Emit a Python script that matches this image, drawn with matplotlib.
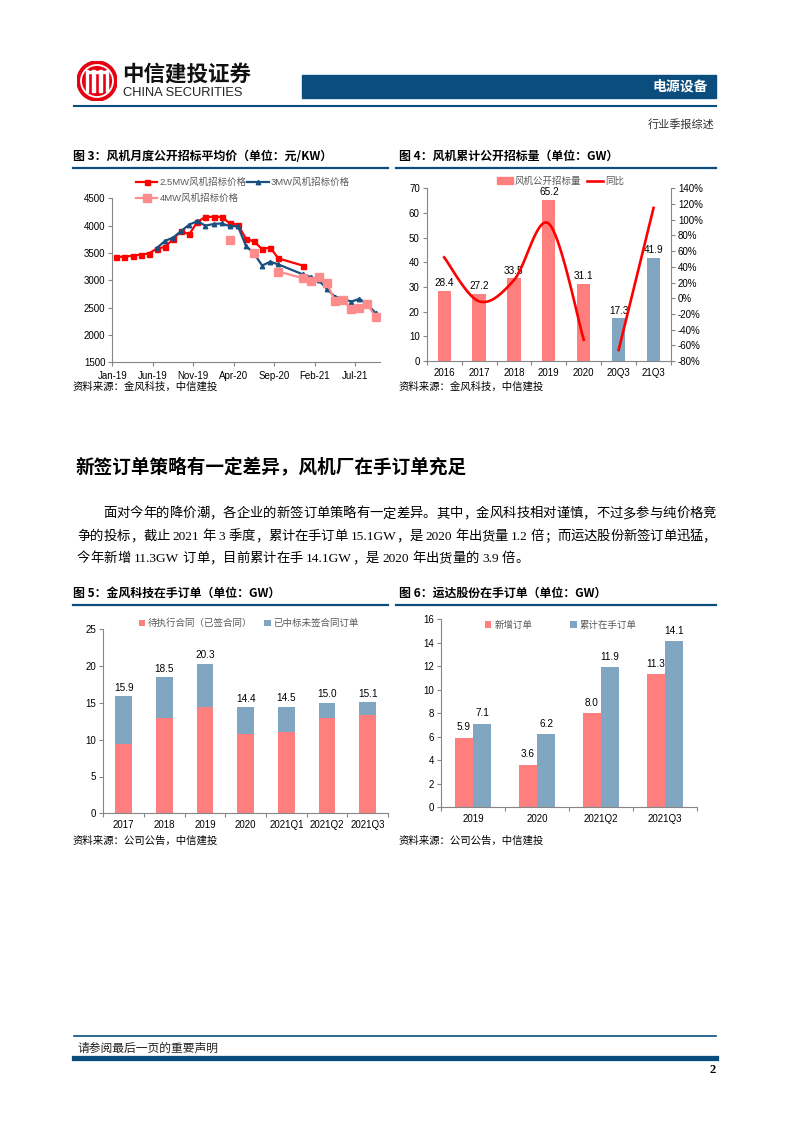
import re
import numpy as np
import matplotlib
matplotlib.use('Agg')
import matplotlib.pyplot as plt
from matplotlib.patches import Rectangle, Circle, Patch
from matplotlib.lines import Line2D

W, H = 793, 1122
CJK = 'Noto Sans CJK SC'
LAT = 'Liberation Sans'
MIX = [LAT, CJK]
SERIF_MIX = ['Liberation Serif', CJK]
NAVY = '#0B4E7D'
PINK = '#FF7F7F'
BLUE = '#80A6C1'
RED = '#FF0000'
GREY = '#868686'

plt.rcParams['font.family'] = MIX

# ---- chart 3: monthly average bid price (yuan/kW) ----
month_idx = list(range(0, 21)) + list(range(23, 33))
month_ticks = ['Jan-19', 'Jun-19', 'Nov-19', 'Apr-20', 'Sep-20', 'Feb-21', 'Jul-21']
price_25 = [3430, 3430, 3450, 3470, 3490, 3580, 3610, 3750, 3900, 3840, 4070,
            4160, 4160, 4160, 4040, 4020, 3760, 3710, 3570, 3600, 3400,
            3270] + [None] * 9
price_3 = [None] * 5 + [3590, 3720, 3780, 3900, 4020, 4080, 4000, 4030, 4040,
                        3990, 3990, 3630, 3490, 3270, 3340, 3290,
                        3110, 3060, 3000, 2840, 2700, 2660, 2610, 2660, 2560, 2400]
price_4 = [None] * 14 + [3730, None, None, 3500, None, None, 3160,
                         3040, 2990, 3060, 2950, 2620, 2640, 2470, 2490, 2560, 2330]

# ---- chart 4: cumulative public bidding (GW) ----
bid_cats = ['2016', '2017', '2018', '2019', '2020', '20Q3', '21Q3']
bid_gw = [28.4, 27.2, 33.5, 65.2, 31.1, 17.3, 41.9]
bid_yoy = [52, -4, 23, 95, -53, -66, 115]

# ---- chart 5: Goldwind backlog (GW) ----
jf_cats = ['2017', '2018', '2019', '2020', '2021Q1', '2021Q2', '2021Q3']
jf_total = [15.9, 18.5, 20.3, 14.4, 14.5, 15.0, 15.1]
jf_signed = [9.4, 12.9, 14.4, 10.8, 11.1, 13.0, 13.4]

# ---- chart 6: Windey orders (GW) ----
yd_cats = ['2019', '2020', '2021Q2', '2021Q3']
yd_new = [5.9, 3.6, 8.0, 11.3]
yd_backlog = [7.1, 6.2, 11.9, 14.1]

fig = plt.figure(figsize=(W / 100, H / 100), dpi=100)


def add_ax(x0, y0, x1, y1, **kw):
    return fig.add_axes([x0 / W, 1 - y1 / H, (x1 - x0) / W, (y1 - y0) / H], **kw)


def txt(x, y, s, size, **kw):
    kw.setdefault('va', 'center')
    return fig.text(x / W, 1 - y / H, s, fontsize=size, **kw)


def hline(x0, x1, y, lw, color=NAVY):
    fig.add_artist(Line2D([x0 / W, x1 / W], [1 - y / H, 1 - y / H], lw=lw, color=color))


def style(ax):
    for s in ['top', 'right']:
        ax.spines[s].set_visible(False)
    for s in ['left', 'bottom']:
        ax.spines[s].set_color(GREY)
        ax.spines[s].set_linewidth(0.8)
    ax.tick_params(direction='out', length=3, width=0.8, color=GREY,
                   labelsize=7, labelcolor='black', pad=2)


def cat_axis(ax, cats):
    n = len(cats)
    ax.set_xlim(-0.5, n - 0.5)
    ax.set_xticks(np.arange(-0.5, n, 1))
    ax.set_xticklabels([])
    ax.set_xticks(np.arange(n), minor=True)
    ax.set_xticklabels(cats, minor=True)
    ax.tick_params(axis='x', which='minor', length=0, labelsize=7, pad=5)


def smooth(xs, ys, n=24):
    # Excel-like smoothed line (cubic Bezier through the points)
    pts = np.column_stack([xs, ys]).astype(float)
    out = [pts[0]]
    t = np.linspace(0, 1, n)[1:, None]
    for i in range(len(pts) - 1):
        p0 = pts[i - 1] if i > 0 else pts[i]
        p1, p2 = pts[i], pts[i + 1]
        p3 = pts[i + 2] if i + 2 < len(pts) else pts[i + 1]
        c1 = p1 + (p2 - p0) / 6
        c2 = p2 - (p3 - p1) / 6
        seg = (1 - t) ** 3 * p1 + 3 * (1 - t) ** 2 * t * c1 + 3 * (1 - t) * t ** 2 * c2 + t ** 3 * p2
        out.extend(seg)
    return np.array(out)


# ---------------- page header ----------------
lax = add_ax(77, 60, 117, 102)
lax.set_xlim(-1, 1)
lax.set_ylim(-1, 1)
lax.set_aspect('equal')
lax.axis('off')
lax.add_patch(Circle((0, 0), 1, color='#E60012'))
lax.add_patch(Circle((0, 0), 0.8, fill=False, ec='white', lw=1.3))
for bx in [-0.5, -0.17, 0.17, 0.5]:
    lax.add_patch(Rectangle((bx - 0.06, -0.55), 0.12, 1.1, color='white'))
lax.add_patch(Rectangle((-0.5, 0.42), 1.0, 0.1, color='white'))

txt(122, 74, '中信建投证券', 15.5, family=CJK, weight='bold', color='#111111')
txt(123, 92.5, 'CHINA SECURITIES', 9.3, family=LAT, color='#222222')
fig.add_artist(Rectangle((302 / W, 1 - 98 / H), 414 / W, 23 / H, color=NAVY,
                         transform=fig.transFigure))
txt(708, 87, '电源设备', 10, family=CJK, weight='bold', color='white', ha='right')
hline(74, 716, 105.5, 1.5)
txt(714, 125, '行业季报综述', 8, family=CJK, color='#333333', ha='right')

# ---------------- figure titles ----------------
txt(73, 156, '图 3：风机月度公开招标平均价（单位：元/KW）', 8.6, family=CJK, weight='bold')
txt(399, 156, '图 4：风机累计公开招标量（单位：GW）', 8.6, family=CJK, weight='bold')
hline(73, 388, 167.5, 1.6)
hline(396, 716, 167.5, 1.6)
txt(73, 387, '资料来源：金风科技，中信建投', 7.5, family=CJK)
txt(399, 387, '资料来源：金风科技，中信建投', 7.5, family=CJK)

# ---------------- chart 3 ----------------
ax3 = add_ax(112.3, 198.3, 379.6, 362.3)
style(ax3)
xm = np.array(month_idx) + 0.5
h25, = ax3.plot(xm, np.array(price_25, dtype=float), color=RED, lw=1.6,
                marker='s', ms=3.6, label='2.5MW风机招标价格')
h3, = ax3.plot(xm, np.array(price_3, dtype=float), color='#1A5080', lw=1.6,
               marker='^', ms=3.2, label='3MW风机招标价格')
h4, = ax3.plot(xm, np.array(price_4, dtype=float), color='#FF8C8C', lw=1.6,
               marker='s', ms=5.4, label='4MW风机招标价格')
ax3.set_xlim(0, 33)
ax3.set_ylim(1500, 4500)
ax3.set_yticks(np.arange(1500, 4501, 500))
ax3.set_xticks(np.arange(0, 31, 5))
ax3.set_xticklabels(month_ticks)
ax3.tick_params(axis='x', pad=3)
ax3.legend(handles=[h25, h4, h3], ncol=2, loc='upper left',
           bbox_to_anchor=(131 / W, 1 - 173 / H), bbox_transform=fig.transFigure,
           frameon=False, fontsize=6.8, handlelength=2.3, columnspacing=0.1,
           labelspacing=0.75, handletextpad=0.2, borderpad=0, labelcolor='#595959')

# ---------------- chart 4 ----------------
ax4 = add_ax(426.7, 188.3, 671, 361)
style(ax4)
xb = np.arange(len(bid_cats))
bar_cols = [PINK] * 5 + [BLUE] * 2
ax4.bar(xb, bid_gw, width=0.38, color=bar_cols, zorder=2)
for i, v in enumerate(bid_gw):
    ax4.annotate(f'{v:.1f}', (i, v), xytext=(0, 2), textcoords='offset points',
                 ha='center', va='bottom', fontsize=7.2)
cat_axis(ax4, bid_cats)
ax4.set_ylim(0, 70)
ax4.set_yticks(np.arange(0, 71, 10))
ax4r = ax4.twinx()
for s in ['top', 'left', 'bottom']:
    ax4r.spines[s].set_visible(False)
ax4r.spines['right'].set_color(GREY)
ax4r.spines['right'].set_linewidth(0.8)
ax4r.tick_params(direction='out', length=3, width=0.8, color=GREY, labelsize=7, pad=2)
ax4r.set_ylim(-80, 140)
ax4r.set_yticks(np.arange(-80, 141, 20))
ax4r.set_yticklabels([f'{v}%' for v in range(-80, 141, 20)])
seg1 = smooth(xb[:5], bid_yoy[:5])
seg2 = smooth(xb[5:], bid_yoy[5:])
ax4r.plot(seg1[:, 0], seg1[:, 1], color=RED, lw=1.9)
ax4r.plot(seg2[:, 0], seg2[:, 1], color=RED, lw=1.9)
ax4r.legend(handles=[Patch(color=PINK, label='风机公开招标量'),
                     Line2D([], [], color=RED, lw=1.9, label='同比')],
            ncol=2, loc='upper left', bbox_to_anchor=(492 / W, 1 - 172 / H),
            bbox_transform=fig.transFigure, frameon=False, fontsize=6.8,
            handlelength=1.7, handleheight=0.7, columnspacing=0.6,
            handletextpad=0.2, borderpad=0, labelcolor='#595959')

# ---------------- section text ----------------
txt(75, 467, '新签订单策略有一定差异，风机厂在手订单充足', 13.4, family=CJK, weight='bold')

renderer = fig.canvas.get_renderer()


def justify(s, x0, x1, y, size):
    tokens = re.findall(r'[A-Za-z0-9.]+|\s+|.', s)
    items = []
    for tok in tokens:
        if tok.isspace():
            items.append((None, size * 100 / 72 * 0.25))
            continue
        t = txt(0, y, tok, size, family=SERIF_MIX)
        items.append((t, t.get_window_extent(renderer=renderer).width))
    total = sum(w for _, w in items)
    extra = (x1 - x0 - total) / (len(items) - 1) if x1 else 0
    x = x0
    for t, w in items:
        if t is not None:
            t.set_position((x / W, 1 - y / H))
        x += w + extra


body_size = 9.6
justify('面对今年的降价潮，各企业的新签订单策略有一定差异。其中，金风科技相对谨慎，不过多参与纯价格竞',
        103, 716, 514, body_size)
justify('争的投标，截止 2021 年 3 季度，累计在手订单 15.1GW，是 2020 年出货量 1.2 倍；而运达股份新签订单迅猛，',
        77, 716, 537, body_size)
justify('今年新增 11.3GW 订单，目前累计在手 14.1GW，是 2020 年出货量的 3.9 倍。',
        77, None, 559, body_size)

# ---------------- figure titles 5 / 6 ----------------
txt(73, 593.5, '图 5：金风科技在手订单（单位：GW）', 8.6, family=CJK, weight='bold')
txt(399, 593.5, '图 6：运达股份在手订单（单位：GW）', 8.6, family=CJK, weight='bold')
hline(73, 388, 605, 1.6)
hline(396, 716, 605, 1.6)
txt(73, 841, '资料来源：公司公告，中信建投', 7.5, family=CJK)
txt(399, 841, '资料来源：公司公告，中信建投', 7.5, family=CJK)

# ---------------- chart 5 ----------------
ax5 = add_ax(103.3, 629.3, 388, 813.3)
style(ax5)
x5 = np.arange(len(jf_cats))
unsigned = np.array(jf_total) - np.array(jf_signed)
ax5.bar(x5, jf_signed, width=0.41, color=PINK, label='待执行合同（已签合同）', zorder=2)
ax5.bar(x5, unsigned, bottom=jf_signed, width=0.41, color=BLUE,
        label='已中标未签合同订单', zorder=2)
for i, v in enumerate(jf_total):
    ax5.annotate(f'{v:.1f}', (i, v), xytext=(0, 2.5), textcoords='offset points',
                 ha='center', va='bottom', fontsize=7.2)
cat_axis(ax5, jf_cats)
ax5.set_ylim(0, 25)
ax5.set_yticks(np.arange(0, 26, 5))
ax5.legend(ncol=2, loc='upper left', bbox_to_anchor=(134 / W, 1 - 614 / H),
           bbox_transform=fig.transFigure, frameon=False, fontsize=6.8,
           handlelength=0.7, handleheight=0.7, columnspacing=1.2,
           handletextpad=0.3, borderpad=0, labelcolor='#595959')

# ---------------- chart 6 ----------------
ax6 = add_ax(441, 619, 697, 807.3)
style(ax6)
x6 = np.arange(len(yd_cats))
bw = 0.286
ax6.bar(x6 - bw / 2, yd_new, width=bw, color=PINK, label='新增订单', zorder=2)
ax6.bar(x6 + bw / 2, yd_backlog, width=bw, color=BLUE, label='累计在手订单', zorder=2)
for i in range(len(yd_cats)):
    ax6.annotate(f'{yd_new[i]:.1f}', (i - bw / 2, yd_new[i]), xytext=(0, 4),
                 textcoords='offset points', ha='center', va='bottom', fontsize=7.2)
    ax6.annotate(f'{yd_backlog[i]:.1f}', (i + bw / 2, yd_backlog[i]), xytext=(0, 4),
                 textcoords='offset points', ha='center', va='bottom', fontsize=7.2)
cat_axis(ax6, yd_cats)
ax6.set_ylim(0, 16)
ax6.set_yticks(np.arange(0, 17, 2))
ax6.legend(ncol=2, loc='upper left', bbox_to_anchor=(480 / W, 1 - 616 / H),
           bbox_transform=fig.transFigure, frameon=False, fontsize=6.8,
           handlelength=0.7, handleheight=0.7, columnspacing=4.0,
           handletextpad=0.3, borderpad=0, labelcolor='#595959')

# ---------------- footer ----------------
hline(74, 716, 1036, 1.2)
txt(77, 1048, '请参阅最后一页的重要声明', 8.5, family=CJK, color='#222222')
hline(74, 716, 1058, 3.8)
txt(716, 1070, '2', 9, family='Liberation Serif', weight='bold', ha='right')

fig.savefig('out.png', dpi=100)
